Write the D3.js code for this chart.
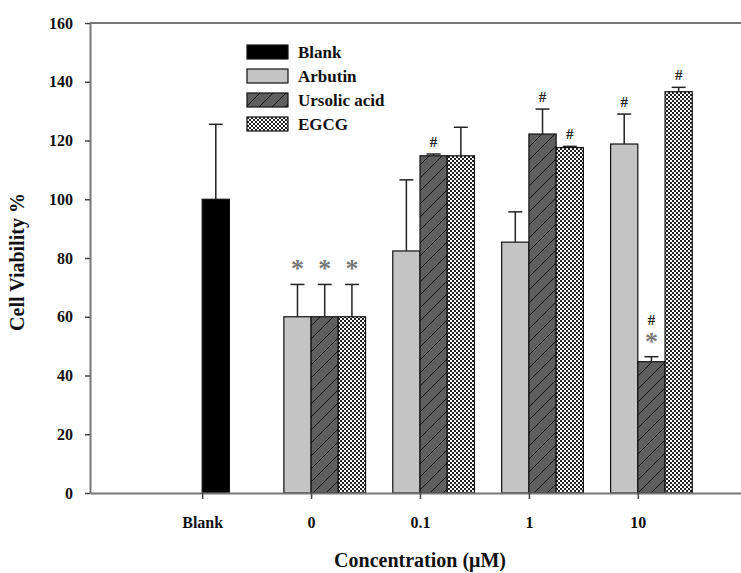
<!DOCTYPE html>
<html>
<head>
<meta charset="utf-8">
<script src="https://cdn.jsdelivr.net/npm/d3@7"></script>
<style>
  body { margin: 0; padding: 0; background: #fff; }
  text { font-family: "Liberation Serif", "Times New Roman", serif; font-weight: bold; }
</style>
</head>
<body>
<script>
// concentration groups on the x axis
const categories = ["Blank", "0", "0.1", "1", "10"];
const series = ["Blank", "Arbutin", "Ursolic acid", "EGCG"];

// cell viability % (mean) and upper error (SD) per group
const blank      = [100, null, null, null, null];
const blankErr   = [25.5, null, null, null, null];
const arbutin    = [null, 60, 82.4, 85.4, 118.8];
const arbutinErr = [null, 11, 24.2, 10.3, 10.2];
const ursolic    = [null, 60, 114.8, 122.2, 44.7];
const ursolicErr = [null, 11, 0.6, 8.5, 1.7];
const egcg       = [null, 60, 114.8, 117.6, 136.6];
const egcgErr    = [null, 11, 9.7, 0.4, 1.5];

// significance marks, top to bottom
const blankMarks   = [[], [], [], [], []];
const arbutinMarks = [[], ["*"], [], [], ["#"]];
const ursolicMarks = [[], ["*"], ["#"], ["#"], ["#", "*"]];
const egcgMarks    = [[], ["*"], [], ["#"], ["#"]];

const yTicks = [0, 20, 40, 60, 80, 100, 120, 140, 160];

const W = 741, H = 573;
const pLeft = 90, pTop = 23, pBottom = 493, pRight = 750;

const svg = d3.select("body").append("svg")
  .attr("width", W)
  .attr("height", H);

const defs = svg.append("defs");

// diagonal hatch for ursolic acid
const hatch = defs.append("pattern")
  .attr("id", "hatch")
  .attr("patternUnits", "userSpaceOnUse")
  .attr("width", 13).attr("height", 13);
hatch.append("rect").attr("width", 13).attr("height", 13).attr("fill", "#5f5f5f");
hatch.append("path")
  .attr("d", "M-3,3 L3,-3 M0,13 L13,0 M10,16 L16,10")
  .attr("stroke", "#111").attr("stroke-width", 1);

// fine checker for EGCG
const checker = defs.append("pattern")
  .attr("id", "checker")
  .attr("patternUnits", "userSpaceOnUse")
  .attr("width", 4).attr("height", 4);
checker.append("rect").attr("width", 4).attr("height", 4).attr("fill", "#fff");
checker.append("rect").attr("width", 2).attr("height", 2).attr("fill", "#222");
checker.append("rect").attr("x", 2).attr("y", 2).attr("width", 2).attr("height", 2).attr("fill", "#222");

const fills = {
  "Blank": "#000",
  "Arbutin": "#c4c4c4",
  "Ursolic acid": "url(#hatch)",
  "EGCG": "url(#checker)"
};

const x = d3.scalePoint()
  .domain(categories)
  .range([pLeft, pRight])
  .padding(1.03);

const step = x.step();
const bw = step / 4;

// column slot of each series inside a group (blank was plotted in the 2nd column)
const slot = d3.scaleOrdinal()
  .domain(series)
  .range([0, -1, 0, 1]);

const y = d3.scaleLinear()
  .domain([0, 160])
  .range([pBottom, pTop]);

// build bar rows from the arrays
const table = [
  ["Blank", blank, blankErr, blankMarks],
  ["Arbutin", arbutin, arbutinErr, arbutinMarks],
  ["Ursolic acid", ursolic, ursolicErr, ursolicMarks],
  ["EGCG", egcg, egcgErr, egcgMarks]
];
const bars = [];
table.forEach(([name, vals, errs, marks]) => {
  vals.forEach((v, i) => {
    if (v == null) return;
    bars.push({ name, cat: categories[i], value: v, err: errs[i], marks: marks[i] });
  });
});

const barX = d => x(d.cat) + slot(d.name) * bw;

// bars
svg.append("g")
  .selectAll("rect")
  .data(bars)
  .join("rect")
    .attr("x", barX)
    .attr("y", d => y(d.value))
    .attr("width", bw)
    .attr("height", d => y(0) - y(d.value))
    .attr("fill", d => fills[d.name])
    .attr("stroke", "#111")
    .attr("stroke-width", 1.2);

// error bars (upper only)
const eb = svg.append("g")
  .attr("stroke", "#222")
  .attr("stroke-width", 1.5);
eb.selectAll("line.v")
  .data(bars)
  .join("line")
    .attr("class", "v")
    .attr("x1", d => barX(d) + bw / 2)
    .attr("x2", d => barX(d) + bw / 2)
    .attr("y1", d => y(d.value))
    .attr("y2", d => y(d.value + d.err));
eb.selectAll("line.c")
  .data(bars)
  .join("line")
    .attr("class", "c")
    .attr("x1", d => barX(d) + bw / 2 - 7)
    .attr("x2", d => barX(d) + bw / 2 + 7)
    .attr("y1", d => y(d.value + d.err))
    .attr("y2", d => y(d.value + d.err));

// significance marks (stacked upward from the cap)
const marks = [];
bars.forEach(d => {
  const n = d.marks.length;
  d.marks.forEach((m, k) => {
    marks.push({ d, m, k: n - 1 - k });
  });
});
svg.append("g")
  .selectAll("text")
  .data(marks)
  .join("text")
    .attr("x", o => barX(o.d) + bw / 2)
    .attr("y", o => y(o.d.value + o.d.err) - 7 - o.k * 25)
    .attr("text-anchor", "middle")
    .attr("font-size", o => o.m === "*" ? 26 : 15)
    .attr("font-weight", o => o.m === "*" ? "normal" : "bold")
    .attr("fill", o => o.m === "*" ? "#777" : "#222")
    .text(o => o.m);

// axes
const xAxis = svg.append("g")
  .attr("transform", `translate(0,${pBottom})`)
  .call(d3.axisBottom(x).tickSize(6).tickSizeOuter(0));
const yAxis = svg.append("g")
  .attr("transform", `translate(${pLeft},0)`)
  .call(d3.axisLeft(y).tickValues(yTicks).tickSize(5).tickSizeOuter(0));

[xAxis, yAxis].forEach(g => {
  g.select(".domain").attr("stroke", "#777").attr("stroke-width", 2);
  g.selectAll(".tick line").attr("stroke", "#444").attr("stroke-width", 1.5);
  g.selectAll(".tick text")
    .attr("font-family", "Liberation Serif, serif")
    .attr("font-weight", "bold")
    .attr("font-size", 16)
    .attr("fill", "#111");
});
xAxis.selectAll(".tick text").attr("y", 35).attr("dy", 0);
yAxis.selectAll(".tick text").attr("x", -17);

// top frame line
svg.append("line")
  .attr("x1", pLeft).attr("x2", pRight)
  .attr("y1", pTop).attr("y2", pTop)
  .attr("stroke", "#777").attr("stroke-width", 2);

// axis titles
svg.append("text")
  .attr("transform", `translate(24,${(pTop + pBottom) / 2 + 4}) rotate(-90)`)
  .attr("text-anchor", "middle")
  .attr("font-size", 20)
  .attr("fill", "#111")
  .text("Cell Viability %");

svg.append("text")
  .attr("x", x("0.1"))
  .attr("y", 567)
  .attr("text-anchor", "middle")
  .attr("font-size", 20)
  .attr("fill", "#111")
  .text("Concentration (\u03bcM)");

// legend
const legend = svg.append("g")
  .attr("transform", "translate(247,45)");
const li = legend.selectAll("g")
  .data(series)
  .join("g")
    .attr("transform", (d, i) => `translate(0,${i * 24})`);
li.append("rect")
  .attr("width", 41).attr("height", 14)
  .attr("fill", d => fills[d])
  .attr("stroke", "#111").attr("stroke-width", 1.2);
li.append("text")
  .attr("x", 51).attr("y", 13)
  .attr("font-size", 17)
  .attr("fill", "#111")
  .text(d => d);
</script>
</body>
</html>
